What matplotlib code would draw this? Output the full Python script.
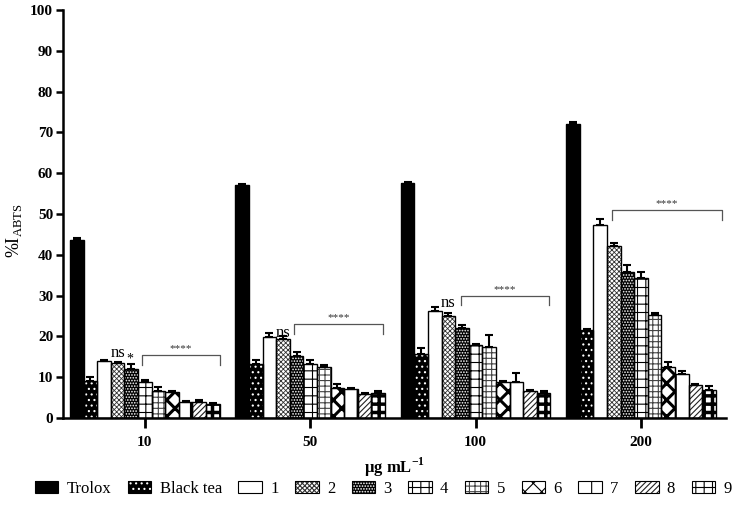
import numpy as np
import matplotlib
matplotlib.use("Agg")
import matplotlib.pyplot as plt
from matplotlib.patches import Patch

plt.rcParams['font.family'] = ['Liberation Serif', 'DejaVu Serif']
plt.rcParams['hatch.linewidth'] = 0.8

concentrations = ['10', '50', '100', '200']
samples = ['Trolox', 'Black tea', '1', '2', '3', '4', '5', '6', '7', '8', '9']

# %I ABTS means and upper error (SD) per concentration
mean_10 = [43.7, 9.0, 14.0, 13.4, 12.0, 8.7, 6.5, 6.3, 4.0, 3.8, 3.4]
err_10 = [0.3, 1.0, 0.15, 0.3, 1.1, 0.6, 1.1, 0.3, 0.15, 0.6, 0.3]
mean_50 = [57.0, 13.3, 19.8, 19.3, 15.1, 13.3, 12.6, 7.3, 7.1, 5.9, 6.1]
err_50 = [0.3, 1.0, 1.0, 0.7, 1.0, 0.8, 0.4, 0.9, 0.2, 0.2, 0.6]
mean_100 = [57.5, 15.7, 26.3, 24.9, 22.1, 17.8, 17.5, 8.9, 8.7, 6.6, 6.1]
err_100 = [0.3, 1.5, 0.8, 0.8, 0.7, 0.4, 2.8, 0.2, 2.3, 0.2, 0.6]
mean_200 = [72.2, 21.5, 47.3, 42.2, 35.9, 34.4, 25.2, 12.6, 10.8, 8.1, 6.9]
err_200 = [0.3, 0.3, 1.4, 0.6, 1.5, 1.5, 0.6, 1.0, 0.8, 0.3, 1.0]

means = np.array([mean_10, mean_50, mean_100, mean_200])
errs = np.array([err_10, err_50, err_100, err_200])

# significance brackets: (group, start bar, end bar, height)
brackets = [(0, 5.27, 11.0, 15.4), (1, 4.29, 10.86, 23.0),
            (2, 4.44, 10.91, 30.0), (3, 3.36, 11.45, 51.0)]
ns_marks = [(0, 3.5, 16.0), (1, 3.5, 20.8), (2, 3.46, 28.1)]
star_marks = [(0, 4.4, 14.5)]

# face colour, hatch colour, hatch, hatch line width
styles = [
    ('black', 'black', '', 0.8),
    ('black', 'white', '...', 0.8),
    ('white', 'black', '', 0.8),
    ('white', '#333333', 'xxxxxxx', 0.6),
    ('black', 'white', '......', 0.8),
    ('white', 'black', '++', 0.8),
    ('white', '#444444', '+++', 0.8),
    ('white', 'black', 'xx', 2.2),
    ('white', 'black', '|', 2.5),
    ('white', '#222222', '//////', 0.8),
    ('white', 'black', '++', 2.5),
]

fig = plt.figure(figsize=(7.4, 5.09), dpi=100)
ax = fig.add_axes([0.085, 0.179, 0.896, 0.801])

w = 0.0822
x = np.arange(len(concentrations))
n = len(samples)

for i in range(n):
    fc, hc, hatch, hlw = styles[i]
    pos = x + (i - (n - 1) / 2) * w
    with plt.rc_context({'hatch.linewidth': hlw}):
        ax.bar(pos, means[:, i], w, color=fc, edgecolor=hc, hatch=hatch,
               linewidth=0, zorder=2)
    ax.bar(pos, means[:, i], w, fill=False, edgecolor='black',
           linewidth=1.0, zorder=3)
    ax.errorbar(pos, means[:, i], yerr=[np.zeros(len(x)), errs[:, i]],
                fmt='none', ecolor='black', elinewidth=1.5, capsize=3,
                capthick=1.5, zorder=4)

def bar_x(g, b):
    return x[g] - n / 2 * w + b * w

for g, b0, b1, h in brackets:
    x0, x1 = bar_x(g, b0), bar_x(g, b1)
    ax.plot([x0, x0, x1, x1], [h - 2.4, h, h, h - 2.4], color='#555555',
            lw=0.9, zorder=5)
    ax.text((x0 + x1) / 2, h + 0.4, '****', ha='center', va='bottom',
            fontsize=8, color='#333333')

for g, b, h in ns_marks:
    ax.text(bar_x(g, b), h, 'ns', ha='center', va='center', fontsize=12)

for g, b, h in star_marks:
    ax.text(bar_x(g, b), h, '*', ha='center', va='center', fontsize=10)

ax.set_xlim(-0.495, 3.514)
ax.set_ylim(0, 100)
ax.set_yticks(range(0, 101, 10))
ax.set_xticks(x)
ax.set_xticklabels(concentrations, fontweight='bold', fontsize=11)
for lab in ax.get_yticklabels():
    lab.set_fontweight('bold')
    lab.set_fontsize(11)
ax.tick_params(axis='y', direction='out', length=5, width=1.8, pad=2)
ax.tick_params(axis='x', direction='out', length=7, width=2, pad=6)
for s in ['top', 'right']:
    ax.spines[s].set_visible(False)
for s in ['left', 'bottom']:
    ax.spines[s].set_linewidth(1.8)

ax.set_ylabel(r'%I$_{\mathregular{ABTS}}$', fontsize=13)
ax.yaxis.set_label_coords(-0.058, 0.46)
ax.set_xlabel(r'µg mL$^{\mathregular{-1}}$', fontsize=12, fontweight='bold',
              labelpad=5)

handles = []
for i in range(n):
    fc, hc, hatch, hlw = styles[i]
    with plt.rc_context({'hatch.linewidth': hlw}):
        hp = Patch(facecolor=fc, edgecolor=hc, hatch=hatch, linewidth=0)
    handles.append((hp, Patch(fill=False, edgecolor='black', linewidth=0.8)))
fig.legend(handles, samples, loc='lower center', ncol=n, frameon=False,
           bbox_to_anchor=(0.518, -0.005), fontsize=12, handlelength=1.4,
           handleheight=0.75, handletextpad=0.5, columnspacing=1.0)

fig.savefig('out.png', dpi=100)
